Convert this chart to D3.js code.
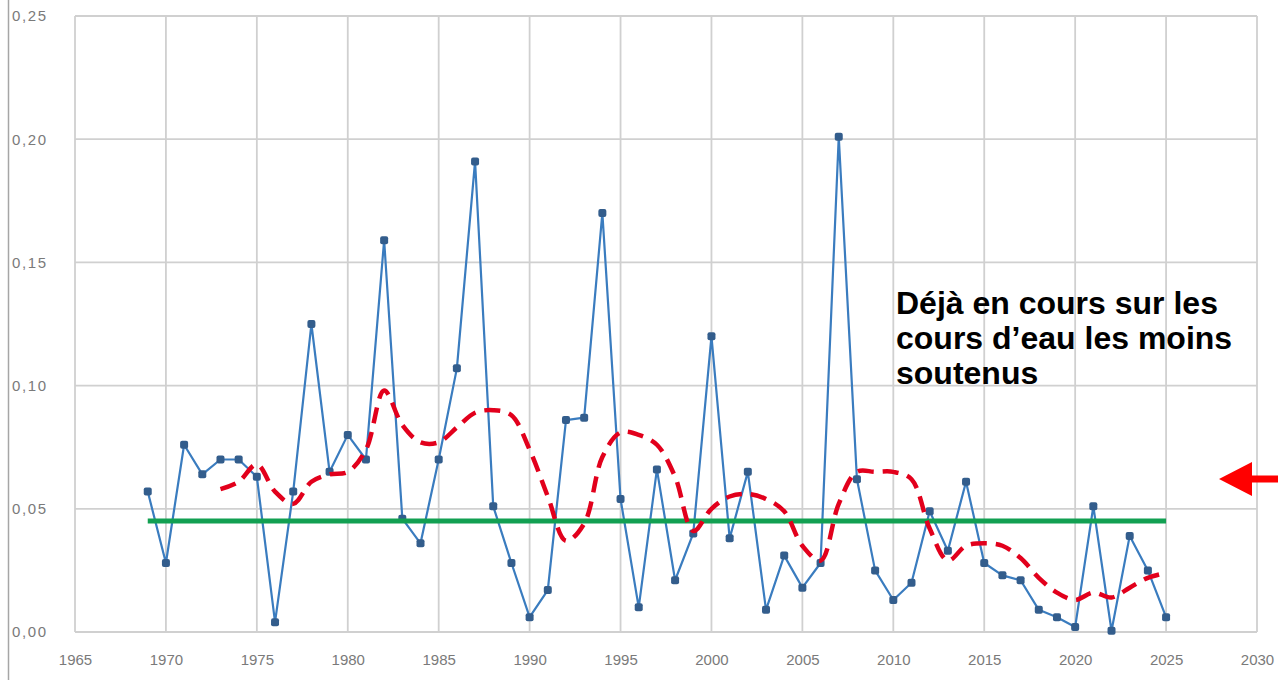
<!DOCTYPE html>
<html>
<head>
<meta charset="utf-8">
<script src="https://cdn.jsdelivr.net/npm/d3@7/dist/d3.min.js"></script>
<style>
  html, body { margin: 0; padding: 0; background: #fff; }
  svg { display: block; }
  text { font-family: "Liberation Sans", Arial, sans-serif; }
</style>
</head>
<body>
<svg id="chart" width="1278" height="680"></svg>
<script>
// Annual values (blue series), 1969–2025
const years = d3.range(1969, 2026);
const values = [
  0.057, 0.028, 0.076, 0.064, 0.070, 0.070, 0.063, 0.004, 0.057, 0.125,
  0.065, 0.080, 0.070, 0.159, 0.046, 0.036, 0.070, 0.107, 0.191, 0.051,
  0.028, 0.006, 0.017, 0.086, 0.087, 0.170, 0.054, 0.010, 0.066, 0.021,
  0.040, 0.120, 0.038, 0.065, 0.009, 0.031, 0.018, 0.028, 0.201, 0.062,
  0.025, 0.013, 0.020, 0.049, 0.033, 0.061, 0.028, 0.023, 0.021, 0.009,
  0.006, 0.002, 0.051, 0.0005, 0.039, 0.025, 0.006
];

// Smoothed trend (red dashed), 1973–2025
const trendYears = d3.range(1973, 2026);
const trendValues = [
  0.058, 0.061, 0.068, 0.057, 0.052, 0.061, 0.064, 0.065, 0.074, 0.098,
  0.084, 0.077, 0.077, 0.083, 0.089, 0.090, 0.088, 0.074, 0.055, 0.037,
  0.044, 0.071, 0.081, 0.080, 0.076, 0.063, 0.041, 0.050, 0.055, 0.056,
  0.054, 0.049, 0.035, 0.029, 0.052, 0.065, 0.065, 0.065, 0.062, 0.042,
  0.029, 0.035, 0.036, 0.035, 0.030, 0.022, 0.016, 0.013, 0.016, 0.014,
  0.018, 0.022, 0.024
];

// Reference level (green), spanning the record
const levelValue = 0.045;
const levelYears = [1969, 2025];

// Axis ticks
const xTicks = d3.range(1965, 2031, 5);
const yTicks = [0, 0.05, 0.10, 0.15, 0.20, 0.25];

// Annotation
const noteLines = ["Déjà en cours sur les", "cours d’eau les moins", "soutenus"];

const svg = d3.select("#chart");
const plotLeft = 75, plotRight = 1257, plotTop = 16, plotBottom = 632;

const x = d3.scaleLinear().domain([1965, 2030]).range([plotLeft, plotRight]);
const y = d3.scaleLinear().domain([0, 0.25]).range([plotBottom, plotTop]);

// Outer frame line at the left edge
svg.append("line")
  .attr("x1", 8.5).attr("x2", 8.5).attr("y1", 0).attr("y2", 680)
  .attr("stroke", "#a6a6a6").attr("stroke-width", 1.5);

// Gridlines
const grid = svg.append("g").attr("stroke", "#d0d0d0").attr("stroke-width", 1.8);
grid.selectAll("line.h").data(yTicks).join("line").attr("class", "h")
  .attr("x1", plotLeft).attr("x2", plotRight)
  .attr("y1", d => y(d)).attr("y2", d => y(d));
grid.selectAll("line.v").data(xTicks).join("line").attr("class", "v")
  .attr("y1", plotTop).attr("y2", plotBottom)
  .attr("x1", d => x(d)).attr("x2", d => x(d));

// Y axis labels
const fmt = d => d3.format(".2f")(d).replace(".", ",");
const yAxis = svg.append("g")
  .attr("transform", "translate(12,0)")
  .call(d3.axisLeft(y).tickValues(yTicks).tickFormat(fmt).tickSize(0).tickPadding(0));
yAxis.select(".domain").remove();
yAxis.selectAll("text")
  .attr("text-anchor", "start")
  .attr("font-size", 15).attr("fill", "#7a7a7a").attr("letter-spacing", 1.6)
  .style("font-family", "'Liberation Sans', Arial, sans-serif");

// X axis labels
const xAxis = svg.append("g")
  .attr("transform", `translate(0,${plotBottom + 22})`)
  .call(d3.axisBottom(x).tickValues(xTicks).tickFormat(d3.format("d")).tickSize(0).tickPadding(0));
xAxis.select(".domain").remove();
xAxis.selectAll("text")
  .attr("font-size", 15).attr("fill", "#7a7a7a")
  .style("font-family", "'Liberation Sans', Arial, sans-serif");

// Blue annual series
const lineGen = d3.line().x((d, i) => x(years[i])).y(d => y(d));
svg.append("path")
  .datum(values)
  .attr("fill", "none")
  .attr("stroke", "#3a7cbf")
  .attr("stroke-width", 2.2)
  .attr("stroke-linejoin", "round")
  .attr("d", lineGen);
svg.append("g").selectAll("rect").data(values).join("rect")
  .attr("x", (d, i) => x(years[i]) - 4)
  .attr("y", d => y(d) - 4)
  .attr("width", 8).attr("height", 8)
  .attr("rx", 2)
  .attr("fill", "#335d8c");

// Green reference level
svg.append("line")
  .attr("x1", x(levelYears[0])).attr("x2", x(levelYears[1]))
  .attr("y1", y(levelValue)).attr("y2", y(levelValue))
  .attr("stroke", "#12a052").attr("stroke-width", 5);

// Red smoothed trend
const trendGen = d3.line()
  .x((d, i) => x(trendYears[i])).y(d => y(d))
  .curve(d3.curveCatmullRom.alpha(0.5));
svg.append("path")
  .datum(trendValues)
  .attr("fill", "none")
  .attr("stroke", "#e2001c")
  .attr("stroke-width", 4.5)
  .attr("stroke-dasharray", "16,9")
  .attr("d", trendGen);

// Annotation text
const note = svg.append("text")
  .attr("x", 896).attr("y", 314)
  .attr("font-size", 32).attr("font-weight", "bold").attr("fill", "#000");
note.selectAll("tspan").data(noteLines).join("tspan")
  .attr("x", 896)
  .attr("dy", (d, i) => i === 0 ? 0 : 35)
  .text(d => d);

// Red arrow pointing left
svg.append("path")
  .attr("d", "M1219,479 L1252,462 L1252,475.5 L1278,475.5 L1278,482.5 L1252,482.5 L1252,496 Z")
  .attr("fill", "#ff0000");
</script>
</body>
</html>
